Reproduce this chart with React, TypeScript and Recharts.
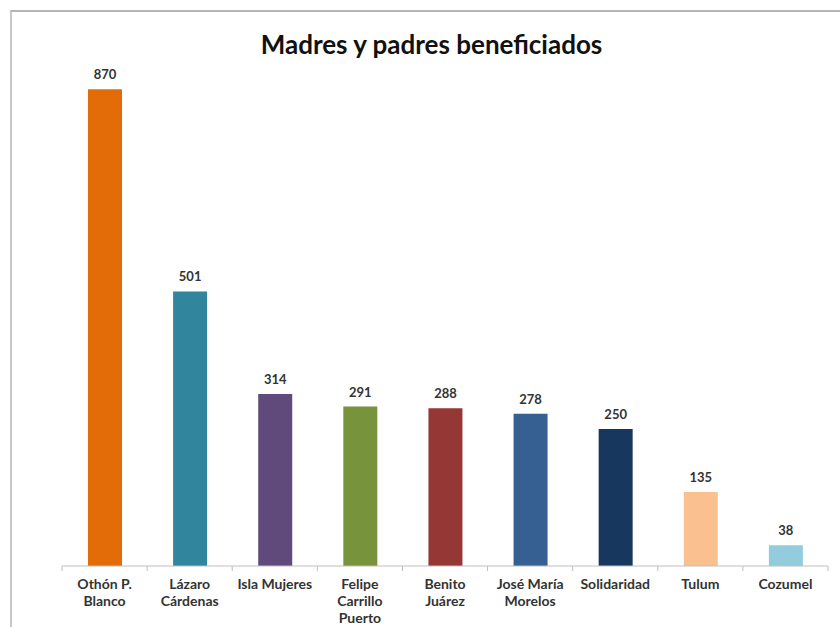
import { BarChart, Bar, XAxis, YAxis, Cell, LabelList } from 'recharts';

const categories = [
  'Othón P.\nBlanco',
  'Lázaro\nCárdenas',
  'Isla Mujeres',
  'Felipe\nCarrillo\nPuerto',
  'Benito\nJuárez',
  'José María\nMorelos',
  'Solidaridad',
  'Tulum',
  'Cozumel',
];
const values = [870, 501, 314, 291, 288, 278, 250, 135, 38];
const colors = ['#E36C09', '#31859C', '#604A7B', '#77933C', '#953735', '#376092', '#17375E', '#FAC090', '#93CDDD'];

const data = categories.map((name, i) => ({ name, value: values[i] }));

const W = 840;
const H = 627;
const margin = { top: 18, right: 12, bottom: 0, left: 62 };
const band = (W - margin.left - margin.right) / categories.length;
const font = 'Lato, "Open Sans", sans-serif';

function CategoryTick(props: any) {
  const { x, y, payload, index } = props;
  const lines = String(payload.value).split('\n');
  return (
    <g>
      <line x1={x - band / 2} y1={y - 8} x2={x - band / 2} y2={y - 3} stroke="#BFBFBF" />
      {index === categories.length - 1 && (
        <line x1={x + band / 2} y1={y - 8} x2={x + band / 2} y2={y - 3} stroke="#BFBFBF" />
      )}
      <text x={x} y={y + 15} textAnchor="middle" fill="#333" fontSize={14} fontWeight="bold" fontFamily={font}>
        {lines.map((l, i) => (
          <tspan key={i} x={x} dy={i === 0 ? 0 : 17}>
            {l}
          </tspan>
        ))}
      </text>
    </g>
  );
}

export default function App() {
  return (
    <div style={{ position: 'absolute', left: 0, top: 0, width: W, height: H, background: '#fff', overflow: 'hidden' }}>
      <div
        style={{
          position: 'absolute',
          left: 10,
          top: 10,
          width: W,
          height: H,
          borderTop: '2px solid #B5B5B5',
          borderLeft: '2px solid #C8C8C8',
          boxSizing: 'border-box',
        }}
      />
      <div
        style={{
          position: 'absolute',
          left: 11,
          width: W - 11,
          top: 28,
          textAlign: 'center',
          fontFamily: font,
          fontWeight: 'bold',
          fontSize: 26,
          color: '#111',
          paddingLeft: 12,
          boxSizing: 'border-box',
        }}
      >
        Madres y padres beneficiados
      </div>
      <div style={{ position: 'absolute', left: 0, top: 0 }}>
        <BarChart width={W} height={H} data={data} margin={margin} barSize={34}>
          <YAxis hide domain={[0, 1000]} />
          <XAxis
            dataKey="name"
            axisLine={{ stroke: '#BFBFBF' }}
            tickLine={false}
            interval={0}
            tick={<CategoryTick />}
            height={61}
          />
          <Bar dataKey="value" isAnimationActive={false}>
            {data.map((d, i) => (
              <Cell key={d.name} fill={colors[i]} />
            ))}
            <LabelList
              dataKey="value"
              position="top"
              offset={10}
              fill="#333"
              fontSize={13}
              fontWeight="bold"
              fontFamily={font}
            />
          </Bar>
        </BarChart>
      </div>
    </div>
  );
}
